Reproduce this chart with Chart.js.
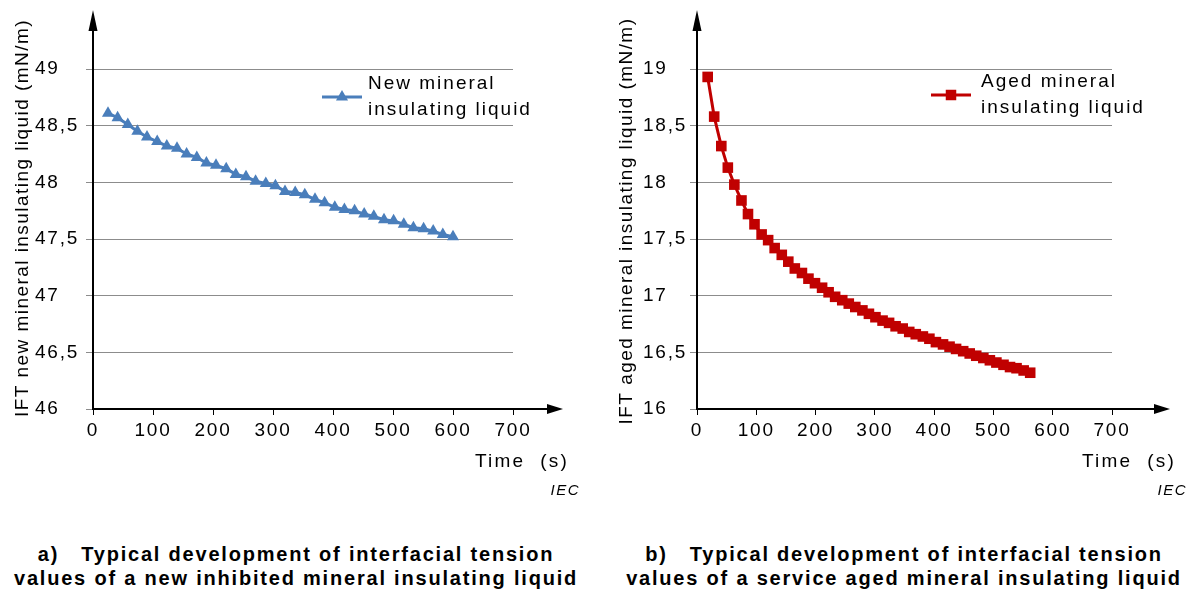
<!DOCTYPE html>
<html>
<head>
<meta charset="utf-8">
<script src="https://cdn.jsdelivr.net/npm/chart.js@4.4.0/dist/chart.umd.min.js"></script>
<style>
  html, body { margin: 0; padding: 0; background: #fff; }
  body { width: 1189px; height: 592px; position: relative; overflow: hidden;
         font-family: "Liberation Sans", Arial, sans-serif; }
  .box { position: absolute; top: 0; height: 520px; }
  .cap { position: absolute; top: 542px; font-weight: bold; font-size: 20px; line-height: 24px;
         text-align: center; letter-spacing: 1.8px; white-space: pre; color: #000; }
</style>
</head>
<body>
<div class="box" style="left:0;width:595px"><canvas id="chartA"></canvas></div>
<div class="box" style="left:595px;width:594px"><canvas id="chartB"></canvas></div>
<div class="cap" style="left:0;width:592px">a)   Typical development of interfacial tension
values of a new inhibited mineral insulating liquid</div>
<div class="cap" style="left:606px;width:596px">b)   Typical development of interfacial tension
values of a service aged mineral insulating liquid</div>

<script>
// time axis, shared by both charts
const timeTicks = [0, 100, 200, 300, 400, 500, 600, 700];

// a) new inhibited mineral insulating liquid
const newTimes = [25, 41, 58, 74, 90, 107, 123, 140, 156, 173, 189, 205, 222, 238, 255, 271, 288, 304,
  320, 337, 353, 370, 386, 403, 419, 436, 452, 468, 485, 501, 518, 534, 551, 567, 583, 600];
const newIft = [48.61, 48.57, 48.51, 48.45, 48.40, 48.36, 48.32, 48.30, 48.25, 48.22, 48.17, 48.15,
  48.12, 48.07, 48.05, 48.01, 47.99, 47.97, 47.92, 47.91, 47.89, 47.85, 47.82, 47.78, 47.76, 47.75,
  47.72, 47.70, 47.67, 47.66, 47.63, 47.60, 47.59, 47.57, 47.54, 47.52];
const newTicks = [46, 46.5, 47, 47.5, 48, 48.5, 49];

// b) service aged mineral insulating liquid
const agedTimes = [18, 29, 41, 52, 63, 75, 86, 97, 109, 120, 131, 143, 154, 165, 177, 188, 199, 211,
  222, 233, 245, 256, 267, 279, 290, 301, 313, 324, 335, 347, 358, 369, 381, 392, 403, 415, 426, 437,
  449, 460, 471, 483, 494, 505, 517, 528, 539, 551, 562];
const agedIft = [18.93, 18.58, 18.32, 18.13, 17.98, 17.84, 17.72, 17.63, 17.54, 17.49, 17.42, 17.36,
  17.30, 17.24, 17.20, 17.15, 17.11, 17.07, 17.03, 16.99, 16.96, 16.93, 16.90, 16.87, 16.84, 16.81,
  16.78, 16.76, 16.73, 16.71, 16.68, 16.66, 16.64, 16.62, 16.59, 16.57, 16.55, 16.53, 16.51, 16.49,
  16.47, 16.45, 16.43, 16.41, 16.39, 16.37, 16.36, 16.34, 16.32];
const agedTicks = [16, 16.5, 17, 17.5, 18, 18.5, 19];

const FONT = '"Liberation Sans", Arial, sans-serif';

function marker(ctx, style, x, y, r, color) {
  ctx.fillStyle = color;
  ctx.beginPath();
  if (style === 'triangle') {
    ctx.moveTo(x, y - r);
    ctx.lineTo(x + r * 0.866, y + r * 0.5);
    ctx.lineTo(x - r * 0.866, y + r * 0.5);
  } else {
    const s = r * 0.75;
    ctx.rect(x - s, y - s, 2 * s, 2 * s);
  }
  ctx.closePath();
  ctx.fill();
}

// arrows, extra axis length, legend, axis titles
const decor = {
  id: 'decor',
  beforeDraw(chart) {
    chart.ctx.letterSpacing = '1.8px';
  },
  afterDraw(chart, args, o) {
    const ctx = chart.ctx;
    const a = chart.chartArea;
    ctx.save();
    ctx.strokeStyle = '#000';
    ctx.fillStyle = '#000';
    ctx.lineWidth = 2;
    ctx.beginPath();
    ctx.moveTo(a.left, a.top);
    ctx.lineTo(a.left, 28);
    ctx.moveTo(a.right, a.bottom);
    ctx.lineTo(o.xTip - 12, a.bottom);
    ctx.stroke();
    ctx.beginPath();
    ctx.moveTo(a.left, 10);
    ctx.lineTo(a.left + 4.5, 31);
    ctx.lineTo(a.left - 4.5, 31);
    ctx.closePath();
    ctx.fill();
    ctx.beginPath();
    ctx.moveTo(o.xTip, a.bottom);
    ctx.lineTo(o.xTip - 16, a.bottom - 5);
    ctx.lineTo(o.xTip - 16, a.bottom + 5);
    ctx.closePath();
    ctx.fill();

    // legend
    const ds = chart.data.datasets[0];
    ctx.strokeStyle = ds.borderColor;
    ctx.lineWidth = 3;
    ctx.beginPath();
    ctx.moveTo(o.legX, o.legY);
    ctx.lineTo(o.legX + 40, o.legY);
    ctx.stroke();
    marker(ctx, ds.pointStyle, o.legX + 20, o.legY, 7, ds.borderColor);
    ctx.fillStyle = '#000';
    ctx.font = '19px ' + FONT;
    ctx.letterSpacing = '2px';
    ctx.textAlign = 'left';
    ctx.textBaseline = 'middle';
    ctx.fillText(o.legend[0], o.legX + o.legGap, o.legY - 13);
    ctx.fillText(o.legend[1], o.legX + o.legGap, o.legY + 13);

    // x title and mark
    ctx.textAlign = 'right';
    ctx.letterSpacing = '2.2px';
    ctx.fillText('Time  (s)', o.xTip + 6, 462);
    ctx.font = 'italic 15px ' + FONT;
    ctx.letterSpacing = '1.5px';
    ctx.fillText('IEC', o.xTip + 17, 491);

    // y title
    ctx.font = '19px ' + FONT;
    ctx.letterSpacing = '1.45px';
    ctx.translate(o.yTitleX, o.yTitleY);
    ctx.rotate(-Math.PI / 2);
    ctx.textAlign = 'center';
    ctx.fillText(o.yTitle, 0, 0);
    ctx.restore();
  }
};

function makeChart(id, times, values, yTicks, color, style, o) {
  const points = times.map((t, i) => ({ x: t, y: values[i] }));
  return new Chart(document.getElementById(id), {
    type: 'line',
    data: {
      datasets: [{
        data: points,
        borderColor: color,
        backgroundColor: color,
        borderWidth: 3,
        pointStyle: style,
        pointRadius: style === 'rect' ? 7.5 : 7,
        pointBorderWidth: 0,
        tension: 0
      }]
    },
    options: {
      responsive: true,
      maintainAspectRatio: false,
      animation: false,
      events: [],
      layout: { padding: { left: o.padLeft, right: o.padRight, top: 69, bottom: 71 } },
      plugins: { legend: { display: false }, tooltip: { enabled: false }, decor: o },
      scales: {
        x: {
          type: 'linear',
          min: 0,
          max: 700,
          afterBuildTicks: s => { s.ticks = timeTicks.map(v => ({ value: v })); },
          afterFit: s => { s.height = 40; },
          grid: { drawOnChartArea: false, drawTicks: true, tickLength: 6, color: '#000', lineWidth: 1 },
          border: { color: '#000', width: 2 },
          ticks: { color: '#000', font: { family: FONT, size: 19 }, padding: 4, maxRotation: 0 }
        },
        y: {
          type: 'linear',
          min: yTicks[0],
          max: yTicks[yTicks.length - 1],
          afterBuildTicks: s => { s.ticks = yTicks.map(v => ({ value: v })); },
          afterFit: s => { s.width = o.yWidth; },
          grid: { color: '#8c8c8c', lineWidth: 1, tickLength: 7 },
          border: { color: '#000', width: 2 },
          ticks: {
            color: '#000',
            font: { family: FONT, size: 19 },
            crossAlign: 'far',
            callback: v => String(v).replace('.', ',')
          }
        }
      }
    },
    plugins: [decor]
  });
}

makeChart('chartA', newTimes, newIft, newTicks, '#4a7ebb', 'triangle', {
  padLeft: 35, yWidth: 58, padRight: 82, xTip: 563,
  legX: 322, legY: 97, legGap: 46, legend: ['New mineral', 'insulating liquid'],
  yTitleX: 23, yTitleY: 218, yTitle: 'IFT new mineral insulating liquid (mN/m)'
});

makeChart('chartB', agedTimes, agedIft, agedTicks, '#c00000', 'rect', {
  padLeft: 48, yWidth: 54, padRight: 77, xTip: 575,
  legX: 336, legY: 95, legGap: 50, legend: ['Aged mineral', 'insulating liquid'],
  yTitleX: 32, yTitleY: 221, yTitle: 'IFT aged mineral insulating liquid (mN/m)'
});
</script>
</body>
</html>
